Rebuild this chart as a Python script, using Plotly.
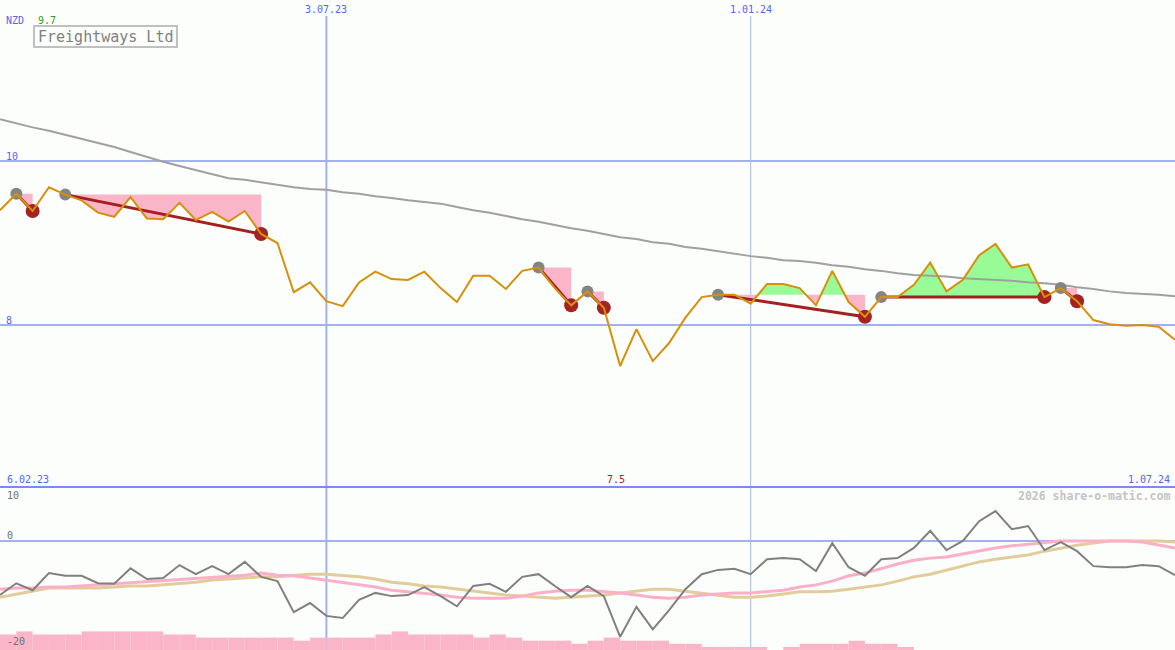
import plotly.graph_objects as go

# ---------------- data ----------------
weeks = list(range(73))  # weekly points, 13.02.23 .. 1.07.24

price = [9.40, 9.60, 9.39, 9.68, 9.59, 9.52, 9.37, 9.32, 9.56, 9.30,
         9.29, 9.49, 9.28, 9.38, 9.26, 9.39, 9.11, 9.00, 8.40, 8.52,
         8.29, 8.23, 8.52, 8.65, 8.56, 8.55, 8.65, 8.45, 8.28, 8.60,
         8.60, 8.44, 8.66, 8.70, 8.45, 8.24, 8.41, 8.21, 7.50, 7.95,
         7.56, 7.78, 8.09, 8.34, 8.37, 8.37, 8.26, 8.50, 8.50, 8.45,
         8.24, 8.66, 8.28, 8.10, 8.34, 8.34, 8.49, 8.76, 8.41, 8.55,
         8.85, 8.99, 8.70, 8.74, 8.34, 8.45, 8.29, 8.06, 8.01, 7.99,
         8.00, 7.98, 7.82]

ma_long = [10.51, 10.46, 10.41, 10.37, 10.32, 10.27, 10.22, 10.17, 10.11, 10.05,
           9.99, 9.94, 9.89, 9.84, 9.79, 9.77, 9.74, 9.71, 9.68, 9.66,
           9.65, 9.62, 9.60, 9.57, 9.55, 9.52, 9.50, 9.48, 9.44, 9.40,
           9.37, 9.33, 9.29, 9.26, 9.22, 9.18, 9.15, 9.11, 9.07, 9.05,
           9.01, 8.99, 8.95, 8.93, 8.90, 8.87, 8.84, 8.82, 8.79, 8.78,
           8.76, 8.73, 8.71, 8.68, 8.66, 8.63, 8.61, 8.60, 8.59, 8.57,
           8.56, 8.55, 8.54, 8.52, 8.51, 8.49, 8.46, 8.44, 8.41, 8.39,
           8.38, 8.37, 8.35]

osc = [-10.1, -7.9, -9.2, -6.0, -6.5, -6.5, -7.9, -8.0, -5.1, -7.1,
       -6.9, -4.5, -6.2, -4.7, -6.2, -3.9, -6.7, -7.5, -13.3, -11.6,
       -14.0, -14.4, -11.0, -9.7, -10.3, -10.1, -8.6, -10.3, -12.2, -8.4,
       -8.0, -9.5, -6.7, -6.2, -8.4, -10.5, -8.4, -10.3, -17.9, -12.3,
       -16.5, -12.9, -9.0, -6.2, -5.4, -5.2, -6.2, -3.4, -3.2, -3.4,
       -5.6, -0.4, -4.9, -6.5, -3.4, -3.2, -1.3, 1.9, -1.7, 0.0,
       3.7, 5.6, 2.2, 2.8, -1.7, -0.2, -1.9, -4.7, -4.9, -4.9,
       -4.5, -4.7, -6.4]

osc_ma_short = [-9.0, -8.8, -8.8, -8.6, -8.6, -8.4, -8.2, -8.0, -7.7, -7.5,
                -7.3, -7.1, -6.9, -6.7, -6.5, -6.4, -6.0, -6.4, -6.5, -6.9,
                -7.3, -7.7, -8.2, -8.6, -9.2, -9.5, -9.7, -10.1, -10.5, -10.7,
                -10.7, -10.7, -10.3, -9.7, -9.4, -9.2, -9.2, -9.4, -9.7, -10.1,
                -10.5, -10.7, -10.5, -10.1, -9.9, -9.7, -9.7, -9.5, -9.2, -8.6,
                -8.2, -7.5, -6.5, -6.0, -5.1, -4.3, -3.6, -3.2, -3.0, -2.4,
                -1.9, -1.3, -0.9, -0.6, -0.2, 0.0, 0.0, 0.0, 0.0, 0.0,
                -0.2, -0.8, -1.3]

osc_ma_long = [-10.5, -9.9, -9.4, -8.8, -8.8, -8.8, -8.8, -8.6, -8.4, -8.4,
               -8.2, -7.9, -7.7, -7.3, -7.1, -6.9, -6.7, -6.7, -6.4, -6.2,
               -6.2, -6.4, -6.7, -7.1, -7.7, -8.0, -8.4, -8.6, -9.0, -9.4,
               -9.7, -10.1, -10.3, -10.5, -10.7, -10.5, -10.3, -10.1, -9.7, -9.4,
               -9.0, -9.0, -9.4, -9.7, -10.1, -10.5, -10.5, -10.3, -9.9, -9.5,
               -9.5, -9.4, -9.0, -8.6, -8.2, -7.5, -6.7, -6.2, -5.4, -4.7,
               -3.9, -3.4, -3.0, -2.6, -1.9, -1.3, -0.8, -0.4, 0.0, 0.0,
               0.0, 0.0, -0.2]

# weekly activity bars (one per week interval)
activity = [5, 6, 5, 5, 5, 6, 6, 6, 6, 6,
            5, 5, 4, 4, 4, 4, 4, 4, 3, 4,
            4, 4, 4, 5, 6, 5, 5, 5, 5, 4,
            5, 4, 3, 3, 3, 2, 3, 4, 3, 3,
            3, 2, 2, 1, 1, 1, 1, 0, 1, 2,
            2, 2, 3, 2, 2, 1, 0, 0, 0, 0,
            0, 0, 0, 0, 0, 0, 0, 0, 0, 0,
            0, 0]

# signals: start week (grey dot) -> end week (red dot)
sig_start = [1, 4, 33, 36, 44, 54, 65]
sig_end = [2, 16, 35, 37, 53, 64, 66]

date_marks = [20, 46]
date_labels = ["3.07.23", "1.01.24"]
price_ticks = [10, 8]
osc_ticks = [10, 0, -20]

# ---------------- styling ----------------
W, H = 1175, 650
BG = "#fbfefb"
SPLIT = 163 / H
GRID = "#a3b0f2"
PINK = "#fbb5c9"
GREEN = "#98fb98"
FONT = "DejaVu Sans Mono"
BLUE_TXT = "#5566ee"


def px(x):
    return x / W


def py(y):
    return 1 - y / H


fig = go.Figure()

# ---- bottom panel ----
fig.add_trace(go.Bar(x=[i + 0.5 for i in range(len(activity))], y=activity, width=1,
                     marker=dict(color=PINK, line=dict(width=0)),
                     xaxis="x", yaxis="y2", hoverinfo="skip"))
fig.add_trace(go.Scatter(x=weeks, y=osc_ma_long, mode="lines",
                         line=dict(color="#e3cc9c", width=3), xaxis="x", yaxis="y3"))
fig.add_trace(go.Scatter(x=weeks, y=osc_ma_short, mode="lines",
                         line=dict(color="#fbb0c8", width=3), xaxis="x", yaxis="y3"))
fig.add_trace(go.Scatter(x=weeks, y=osc, mode="lines",
                         line=dict(color="#808080", width=2), xaxis="x", yaxis="y3"))


# ---- top panel fills ----
def fill_runs(s, e, L):
    pts = [(s, price[s])]
    for i in range(s, e):
        a, b = price[i] - L, price[i + 1] - L
        if a * b < 0:
            t = a / (a - b)
            pts.append((i + t, L))
        pts.append((i + 1, price[i + 1]))
    runs, cur = [], [pts[0]]
    for p in pts[1:]:
        cur.append(p)
        if p[1] == L:
            runs.append(cur)
            cur = [p]
    if len(cur) > 1:
        runs.append(cur)
    out = []
    for r in runs:
        mean = sum(y - L for _, y in r) / len(r)
        if abs(mean) < 1e-9:
            continue
        xs = [x for x, _ in r] + [r[-1][0], r[0][0], r[0][0]]
        ys = [y for _, y in r] + [L, L, r[0][1]]
        out.append((xs, ys, GREEN if mean > 0 else PINK))
    return out


for s, e in zip(sig_start, sig_end):
    for xs, ys, col in fill_runs(s, e, price[s]):
        fig.add_trace(go.Scatter(x=xs, y=ys, mode="none", fill="toself", fillcolor=col,
                                 xaxis="x", yaxis="y", hoverinfo="skip"))

fig.add_trace(go.Scatter(x=weeks, y=ma_long, mode="lines",
                         line=dict(color="#a0a0a0", width=2), xaxis="x", yaxis="y"))

tx, ty = [], []
for s, e in zip(sig_start, sig_end):
    tx += [s, e, None]
    ty += [price[s], price[e], None]
fig.add_trace(go.Scatter(x=tx, y=ty, mode="lines", line=dict(color="#a51f1f", width=3),
                         xaxis="x", yaxis="y"))

fig.add_trace(go.Scatter(x=sig_start, y=[price[i] for i in sig_start], mode="markers",
                         marker=dict(color="#848484", size=12, line=dict(width=0)),
                         xaxis="x", yaxis="y"))
fig.add_trace(go.Scatter(x=sig_end, y=[price[i] for i in sig_end], mode="markers",
                         marker=dict(color="#a52222", size=14, line=dict(width=0)),
                         xaxis="x", yaxis="y"))

fig.add_trace(go.Scatter(x=weeks, y=price, mode="lines",
                         line=dict(color="#d6900a", width=2), xaxis="x", yaxis="y"))

# ---------------- shapes ----------------
shapes = []
for v in price_ticks:
    shapes.append(dict(type="line", xref="paper", yref="y", x0=0, x1=1, y0=v, y1=v,
                       line=dict(color=GRID, width=2), layer="below"))
shapes.append(dict(type="line", xref="paper", yref="y3", x0=0, x1=1, y0=0, y1=0,
                   line=dict(color=GRID, width=2), layer="below"))
shapes.append(dict(type="line", xref="x", yref="paper", x0=date_marks[0], x1=date_marks[0],
                   y0=0, y1=py(16), line=dict(color=GRID, width=2), layer="below"))
shapes.append(dict(type="line", xref="x", yref="paper", x0=date_marks[1], x1=date_marks[1],
                   y0=0, y1=py(16), line=dict(color="#aab4e6", width=1), layer="below"))
shapes.append(dict(type="line", xref="paper", yref="paper", x0=0, x1=1, y0=SPLIT, y1=SPLIT,
                   line=dict(color="#7b89f0", width=2)))
shapes.append(dict(type="rect", xref="paper", yref="paper", x0=px(34), x1=px(177),
                   y0=py(47), y1=py(26), line=dict(color="#c0c0c0", width=2)))

# ---------------- annotations ----------------
ann = []


def text(t, x, y, color, size=10, anchor="left", xref="paper", bold=False):
    ann.append(dict(text=("<b>%s</b>" % t) if bold else t, x=x, y=py(y), xref=xref, yref="paper",
                    xanchor=anchor, yanchor="middle", showarrow=False,
                    font=dict(family=FONT, size=size, color=color)))


text("NZD", px(4), 20, BLUE_TXT)
text("%.1f" % max(price), px(36), 20, "#2e9a2e")
text("Freightways Ltd", px(105.5), 37, "#808080", size=15, anchor="center")
for v in price_ticks:
    ann.append(dict(text=str(v), x=px(4), y=v, xref="paper", yref="y", xanchor="left",
                    yanchor="bottom", showarrow=False, yshift=-3,
                    font=dict(family=FONT, size=10, color=BLUE_TXT)))
for xm, lab in zip(date_marks, date_labels):
    text(lab, xm, 10, BLUE_TXT, anchor="center", xref="x")
text("6.02.23", px(5), 479, BLUE_TXT)
text("%.1f" % min(price), price.index(min(price)) - 0.25, 479, "#a52222", anchor="center", xref="x")
text("1.07.24", px(1172), 479, BLUE_TXT, anchor="right")
text("2026 share-o-matic.com", px(1172), 496, "#c4c4c4", size=11.5, anchor="right", bold=True)
text(str(osc_ticks[0]), px(5), 495, "#707070")
text(str(osc_ticks[1]), px(5), 535, "#707070")
text(str(osc_ticks[2]), px(5), 641, "#707070")

fig.update_layout(
    width=W, height=H, margin=dict(l=0, r=0, t=0, b=0),
    paper_bgcolor=BG, plot_bgcolor=BG, showlegend=False,
    xaxis=dict(domain=[0, 1], range=[0, 72], visible=False, fixedrange=True),
    yaxis=dict(domain=[SPLIT, 1], range=[6.0244, 11.9634], visible=False, anchor="x"),
    yaxis2=dict(domain=[0, SPLIT], range=[0, 52.6], visible=False, anchor="x"),
    yaxis3=dict(overlaying="y2", range=[-20.37, 10.09], visible=False, anchor="x"),
    shapes=shapes, annotations=ann,
)

fig.write_html("out.html", config={"displayModeBar": False},
               post_script="document.body.style.margin='0';document.body.style.overflow='hidden';")
